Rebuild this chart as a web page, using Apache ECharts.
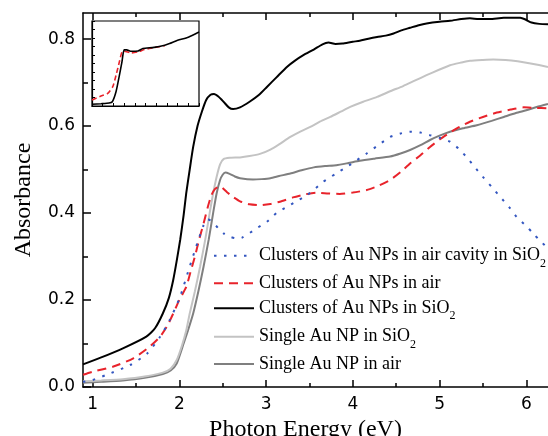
<!DOCTYPE html>
<html>
<head>
<meta charset="utf-8">
<script src="https://cdn.jsdelivr.net/npm/echarts@6/dist/echarts.min.js"></script>
<style>html,body{margin:0;padding:0;background:#fff;}#c{width:548px;height:436px;}</style>
</head>
<body>
<div id="c"></div>
<script>
// ---- Data ----
const xTickLabels = [1, 2, 3, 4, 5, 6];
const xMinorTicks = [1.5, 2.5, 3.5, 4.5, 5.5];
const yTickLabels = [0, 0.2, 0.4, 0.6, 0.8];
const yMinorTicks = [0.1, 0.3, 0.5, 0.7];

const seriesNames = [
  'Clusters of Au NPs in air cavity in SiO2',
  'Clusters of Au NPs in air',
  'Clusters of Au NPs in SiO2',
  'Single Au NP in SiO2',
  'Single Au NP in air'
];

// Clusters of Au NPs in air cavity in SiO2 (blue dotted)
const cavityE = [0.89,1.0,1.16,1.43,1.63,1.78,1.89,2.01,2.12,2.22,2.28,2.33,2.38,2.45,2.52,2.59,2.65,2.72,2.81,2.9,3.01,3.12,3.24,3.35,3.47,3.56,3.66,3.8,3.93,4.05,4.16,4.3,4.43,4.55,4.66,4.78,4.89,5.0,5.12,5.22,5.31,5.4,5.5,5.6,5.7,5.8,5.89,6.0,6.08,6.16,6.25];
const cavityA = [0.012,0.016,0.028,0.05,0.077,0.116,0.154,0.208,0.277,0.338,0.372,0.386,0.38,0.365,0.352,0.345,0.342,0.343,0.354,0.366,0.38,0.40,0.414,0.427,0.441,0.455,0.472,0.49,0.506,0.522,0.537,0.557,0.575,0.583,0.587,0.585,0.579,0.573,0.564,0.548,0.529,0.507,0.483,0.46,0.437,0.414,0.391,0.37,0.353,0.336,0.319];

// Clusters of Au NPs in air (red dashed)
const clAirE = [0.89,1.0,1.24,1.47,1.66,1.78,1.86,1.93,2.0,2.08,2.13,2.18,2.23,2.28,2.33,2.37,2.41,2.45,2.49,2.55,2.62,2.7,2.81,2.93,3.05,3.16,3.31,3.45,3.58,3.72,3.85,4.0,4.16,4.3,4.43,4.55,4.66,4.78,4.89,5.0,5.12,5.23,5.35,5.5,5.66,5.82,5.97,6.1,6.25];
const clAirA = [0.028,0.035,0.047,0.066,0.093,0.116,0.14,0.169,0.2,0.23,0.265,0.30,0.34,0.376,0.415,0.441,0.455,0.46,0.459,0.448,0.437,0.427,0.42,0.418,0.421,0.426,0.436,0.443,0.447,0.445,0.444,0.447,0.453,0.463,0.476,0.494,0.514,0.533,0.552,0.569,0.585,0.598,0.61,0.621,0.631,0.638,0.643,0.642,0.641];

// Clusters of Au NPs in SiO2 (black)
const clSiE = [0.89,1.1,1.35,1.62,1.72,1.81,1.88,1.93,1.97,2.01,2.05,2.08,2.12,2.16,2.21,2.26,2.31,2.36,2.40,2.45,2.51,2.57,2.62,2.7,2.81,2.92,3.01,3.12,3.24,3.33,3.43,3.55,3.65,3.72,3.8,3.88,4.0,4.08,4.18,4.28,4.38,4.47,4.56,4.66,4.76,4.85,5.0,5.12,5.25,5.35,5.45,5.58,5.74,5.85,5.93,5.99,6.06,6.15,6.25];
const clSiA = [0.052,0.068,0.089,0.116,0.135,0.169,0.205,0.246,0.29,0.338,0.395,0.446,0.5,0.552,0.6,0.633,0.66,0.672,0.674,0.668,0.656,0.643,0.639,0.643,0.656,0.672,0.69,0.712,0.736,0.75,0.763,0.776,0.788,0.792,0.789,0.79,0.794,0.796,0.801,0.805,0.808,0.813,0.82,0.826,0.832,0.836,0.84,0.842,0.846,0.848,0.846,0.846,0.849,0.849,0.849,0.845,0.838,0.835,0.834];

// Single Au NP in SiO2 (light grey)
const sgSiE = [0.89,1.1,1.35,1.6,1.81,1.9,1.97,2.03,2.08,2.12,2.18,2.24,2.3,2.35,2.39,2.43,2.47,2.51,2.58,2.7,2.81,2.93,3.05,3.15,3.28,3.4,3.51,3.62,3.74,3.86,3.97,4.12,4.28,4.43,4.58,4.72,4.85,5.0,5.12,5.25,5.35,5.5,5.62,5.76,5.9,6.05,6.25];
const sgSiA = [0.013,0.015,0.018,0.024,0.033,0.042,0.062,0.095,0.13,0.169,0.22,0.277,0.34,0.40,0.445,0.483,0.512,0.524,0.527,0.528,0.531,0.536,0.546,0.558,0.575,0.588,0.598,0.61,0.621,0.633,0.644,0.656,0.667,0.68,0.692,0.705,0.717,0.73,0.74,0.746,0.75,0.752,0.753,0.752,0.749,0.744,0.736];

// Single Au NP in air (dark grey)
const sgAirE = [0.89,1.1,1.35,1.6,1.81,1.9,1.97,2.05,2.1,2.16,2.22,2.28,2.34,2.39,2.43,2.47,2.5,2.53,2.58,2.64,2.7,2.85,2.95,3.05,3.15,3.28,3.42,3.55,3.68,3.81,3.95,4.08,4.25,4.43,4.55,4.66,4.78,4.89,5.0,5.12,5.27,5.43,5.6,5.74,5.88,6.01,6.12,6.25];
const sgAirA = [0.01,0.012,0.015,0.021,0.03,0.038,0.054,0.1,0.13,0.169,0.22,0.277,0.34,0.40,0.445,0.476,0.488,0.493,0.49,0.484,0.48,0.477,0.478,0.48,0.485,0.491,0.499,0.505,0.508,0.51,0.515,0.52,0.525,0.53,0.537,0.545,0.556,0.568,0.578,0.587,0.595,0.602,0.612,0.621,0.63,0.637,0.644,0.651];

// Inset (unlabelled axes, relative units)
const insetBlackX = [0,0.084,0.16,0.19,0.225,0.256,0.28,0.30,0.325,0.36,0.43,0.475,0.58,0.68,0.725,0.80,0.90,1.0];
const insetBlackY = [0.02,0.027,0.035,0.05,0.17,0.36,0.52,0.66,0.66,0.645,0.648,0.676,0.69,0.715,0.734,0.773,0.81,0.87];
const insetRedX = [0,0.084,0.147,0.194,0.225,0.256,0.28,0.30,0.366,0.43,0.49,0.58,0.68];
const insetRedY = [0.07,0.117,0.148,0.227,0.363,0.52,0.637,0.645,0.625,0.637,0.664,0.687,0.71];

// ---- Build ----
const zip = (a, b) => a.map((v, i) => [v, b[i]]);
const serif = 'Liberation Serif';
const sans = 'DejaVu Sans';
const AX = '#000';

function xAx(opts) {
  return Object.assign({
    type: 'value', gridIndex: 0, min: 0.89, max: 6.25,
    splitLine: { show: false },
    axisLine: { show: false, onZero: false },
    axisTick: { show: false },
    axisLabel: { show: false }
  }, opts);
}
function yAx(opts) {
  return Object.assign({
    type: 'value', gridIndex: 0, min: 0, max: 0.86,
    splitLine: { show: false },
    axisLine: { show: false, onZero: false },
    axisTick: { show: false },
    axisLabel: { show: false }
  }, opts);
}

const lineBase = { type: 'line', symbol: 'none', showSymbol: false, smooth: 0.2, xAxisIndex: 0, yAxisIndex: 0 };

const colors = {
  cavity: '#3356c0', clAir: '#e8232b', clSi: '#000000', sgSi: '#c3c3c3', sgAir: '#7f7f7f'
};

const richText = {
  t: { fontFamily: serif, fontSize: 18, color: '#000', lineHeight: 20 },
  s: { fontFamily: serif, fontSize: 12, color: '#000', lineHeight: 12, padding: [16, 0, 0, 0] }
};
function fmt(name) {
  if (name.endsWith('SiO2')) return '{t|' + name.slice(0, -1) + '}{s|2}';
  return '{t|' + name + '}';
}
const legendTops = [241.7, 274.3, 294.3, 322.7, 355];
const legends = seriesNames.map((n, i) => ({
  data: [n], left: 213, top: legendTops[i], itemWidth: 40, itemHeight: 14,
  padding: 0, selectedMode: false, formatter: fmt,
  itemStyle: { opacity: 0, borderWidth: 0 },
  textStyle: { rich: richText, color: '#000' }
}));

const option = {
  backgroundColor: '#fff',
  animation: false,
  grid: [
    { left: 83, top: 13, width: 465, height: 374, containLabel: false, outerBoundsMode: 'none' },
    { left: 92, top: 21, width: 107, height: 85, show: true, borderColor: '#000', borderWidth: 1.2, backgroundColor: 'transparent', outerBoundsMode: 'none' }
  ],
  legend: legends,
  xAxis: [
    xAx({
      position: 'bottom',
      axisLine: { show: true, onZero: false, lineStyle: { color: AX, width: 1.5 } },
      axisTick: { show: true, inside: true, length: 7, customValues: xTickLabels, lineStyle: { color: AX, width: 1.5 } },
      axisLabel: { show: true, customValues: xTickLabels, margin: 9, color: '#000', fontFamily: sans, fontSize: 17 },
      name: 'Photon Energy (eV)', nameLocation: 'middle', nameGap: 28,
      nameTextStyle: { fontFamily: serif, fontSize: 24, color: '#000', padding: [0, 20, 0, 0] }
    }),
    xAx({
      position: 'bottom',
      axisTick: { show: true, inside: true, length: 4, customValues: xMinorTicks, lineStyle: { color: AX, width: 1.5 } }
    }),
    xAx({
      position: 'top',
      axisLine: { show: true, onZero: false, lineStyle: { color: AX, width: 1.5 } },
      axisTick: { show: true, inside: true, length: 7, customValues: xTickLabels, lineStyle: { color: AX, width: 1.5 } }
    }),
    xAx({
      position: 'top',
      axisTick: { show: true, inside: true, length: 4, customValues: xMinorTicks, lineStyle: { color: AX, width: 1.5 } }
    }),
    {
      type: 'value', gridIndex: 1, min: 0, max: 1, interval: 0.1,
      splitLine: { show: false },
      axisLine: { show: true, onZero: false, lineStyle: { color: AX, width: 1.2 } },
      axisTick: { show: true, inside: true, length: 3, lineStyle: { color: AX, width: 1 } },
      axisLabel: { show: false }
    }
  ],
  yAxis: [
    yAx({
      position: 'left',
      axisLine: { show: true, onZero: false, lineStyle: { color: AX, width: 1.5 } },
      axisTick: { show: true, inside: true, length: 8, customValues: yTickLabels, lineStyle: { color: AX, width: 1.5 } },
      axisLabel: { show: true, customValues: yTickLabels, margin: 8, color: '#000', fontFamily: sans, fontSize: 17,
        formatter: v => v.toFixed(1) },
      name: 'Absorbance', nameLocation: 'middle', nameGap: 47,
      nameTextStyle: { fontFamily: serif, fontSize: 24, color: '#000' }
    }),
    yAx({
      position: 'left',
      axisTick: { show: true, inside: true, length: 5, customValues: yMinorTicks, lineStyle: { color: AX, width: 1.5 } }
    }),
    {
      type: 'value', gridIndex: 1, min: 0, max: 1, interval: 0.1,
      splitLine: { show: false },
      axisLine: { show: true, onZero: false, lineStyle: { color: AX, width: 1.2 } },
      axisTick: { show: true, inside: true, length: 3, lineStyle: { color: AX, width: 1 } },
      axisLabel: { show: false }
    }
  ],
  series: [
    Object.assign({}, lineBase, { name: seriesNames[4], data: zip(sgAirE, sgAirA), z: 2,
      lineStyle: { color: colors.sgAir, width: 2 }, itemStyle: { color: colors.sgAir } }),
    Object.assign({}, lineBase, { name: seriesNames[3], data: zip(sgSiE, sgSiA), z: 2,
      lineStyle: { color: colors.sgSi, width: 2 }, itemStyle: { color: colors.sgSi } }),
    Object.assign({}, lineBase, { name: seriesNames[2], data: zip(clSiE, clSiA), z: 3,
      lineStyle: { color: colors.clSi, width: 2 }, itemStyle: { color: colors.clSi } }),
    Object.assign({}, lineBase, { name: seriesNames[1], data: zip(clAirE, clAirA), z: 3,
      lineStyle: { color: colors.clAir, width: 2, type: [9, 6] }, itemStyle: { color: colors.clAir } }),
    Object.assign({}, lineBase, { name: seriesNames[0], data: zip(cavityE, cavityA), z: 3,
      lineStyle: { color: colors.cavity, width: 2, type: [2.5, 7.5] }, itemStyle: { color: colors.cavity } }),
    { type: 'line', name: 'inset-air', symbol: 'none', smooth: 0.2, xAxisIndex: 4, yAxisIndex: 2,
      data: zip(insetRedX, insetRedY), lineStyle: { color: colors.clAir, width: 1.6, type: [5, 3] }, z: 4 },
    { type: 'line', name: 'inset-SiO2', symbol: 'none', smooth: 0.2, xAxisIndex: 4, yAxisIndex: 2,
      data: zip(insetBlackX, insetBlackY), lineStyle: { color: '#000', width: 1.6 }, z: 4 }
  ]
};

const chart = echarts.init(document.getElementById('c'), null, { renderer: 'canvas' });
chart.setOption(option);
</script>
</body>
</html>
